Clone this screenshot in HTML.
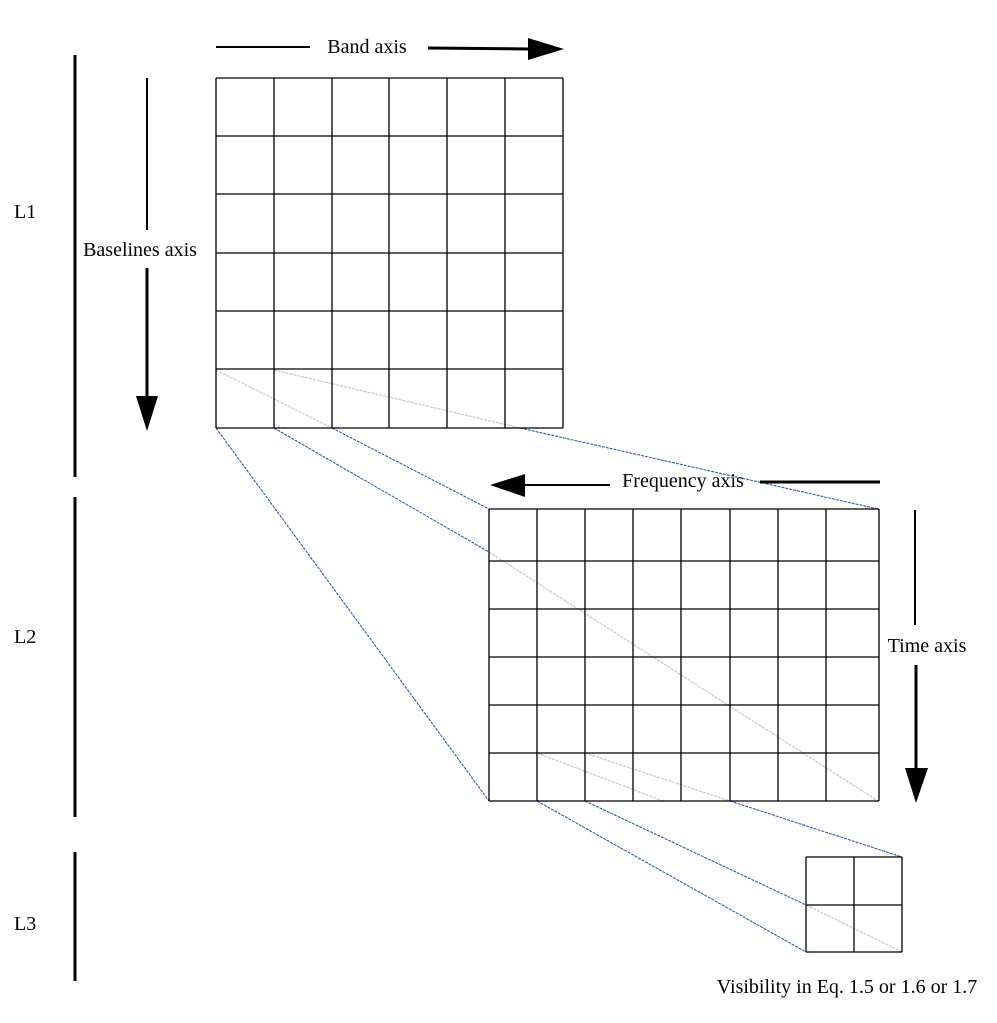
<!DOCTYPE html>
<html><head><meta charset="utf-8"><style>
html,body{margin:0;padding:0;background:#fff}
svg{display:block}
text{font-family:"Liberation Serif",serif;font-size:20px;fill:#000}
</style></head><body>
<svg width="997" height="1023" viewBox="0 0 997 1023">
<g id="links"></g>
<g id="grids"></g>
<g>
<line x1="216" y1="47" x2="310" y2="47" stroke="#000" stroke-width="2"/>
<line x1="428" y1="48" x2="530" y2="49" stroke="#000" stroke-width="3"/>
<polygon points="528,38 564,49 528,60"/>
<text x="367" y="53" text-anchor="middle">Band axis</text>
</g>
<g>
<line x1="147" y1="78" x2="147" y2="230" stroke="#000" stroke-width="2"/>
<line x1="147" y1="268" x2="147" y2="398" stroke="#000" stroke-width="3"/>
<polygon points="136,396 147,431 158,396"/>
<text x="140" y="256" text-anchor="middle">Baselines axis</text>
</g>
<g>
<line x1="760" y1="482" x2="880" y2="482" stroke="#000" stroke-width="3"/>
<line x1="522" y1="485" x2="610" y2="485" stroke="#000" stroke-width="2"/>
<polygon points="490,485 525,474 525,497"/>
<text x="683" y="487" text-anchor="middle">Frequency axis</text>
</g>
<g>
<line x1="915" y1="510" x2="915" y2="625" stroke="#000" stroke-width="2"/>
<line x1="916" y1="665" x2="916" y2="770" stroke="#000" stroke-width="3"/>
<polygon points="905,768 916,803 928,768"/>
<text x="927" y="652" text-anchor="middle">Time axis</text>
</g>
<g>
<line x1="75" y1="55" x2="75" y2="477" stroke="#000" stroke-width="3"/>
<line x1="75" y1="497" x2="75" y2="817" stroke="#000" stroke-width="3"/>
<line x1="75" y1="852" x2="75" y2="981" stroke="#000" stroke-width="3"/>
<text x="14" y="218">L1</text>
<text x="14" y="643">L2</text>
<text x="14" y="930">L3</text>
</g>
<text x="847" y="993" text-anchor="middle">Visibility in Eq. 1.5 or 1.6 or 1.7</text>
</svg>
<script>
const grid1Cols=[216,274,332,389,447,505,563];
const grid1Rows=[78,136,194,253,311,369,428];
const grid2Cols=[489,537,585,633,681,730,778,826,879];
const grid2Rows=[509,561,609,657,705,753,801];
const grid3Cols=[806,854,902];
const grid3Rows=[857,905,952];
const blueLinks=[[216,428,489,801],[274,428,489,552],[332,428,489,509],[520,428,878,509],[537,801,806,952],[585,801,806,905],[730,801,902,857]];
const grayLinks=[[216,370,332,428],[274,370,520,428],[489,552,878,801],[537,753,663,801],[585,753,730,801],[806,905,902,952]];
const NS='http://www.w3.org/2000/svg';
const G=document.getElementById('grids'),L=document.getElementById('links');
function ln(p,x1,y1,x2,y2,c,w,d){const e=document.createElementNS(NS,'line');e.setAttribute('x1',x1);e.setAttribute('y1',y1);e.setAttribute('x2',x2);e.setAttribute('y2',y2);e.setAttribute('stroke',c);e.setAttribute('stroke-width',w);if(d)e.setAttribute('stroke-dasharray',d);p.appendChild(e);return e;}
function grid(cols,rows,name){const g=document.createElementNS(NS,'g');


cols.forEach(x=>ln(g,x,rows[0],x,rows[rows.length-1],'#000',1.3));
rows.forEach(y=>ln(g,cols[0],y,cols[cols.length-1],y,'#000',1.3));
G.appendChild(g);}
grayLinks.forEach(a=>{const e=ln(L,a[0],a[1],a[2],a[3],'#c8c8c8',1.2,'3 1');

});
blueLinks.forEach(a=>{const e=ln(L,a[0],a[1],a[2],a[3],'#2f5fa8',1.1,'3 1');

});
grid(grid1Cols,grid1Rows,'grid-l1');
grid(grid2Cols,grid2Rows,'grid-l2');
grid(grid3Cols,grid3Rows,'grid-l3');
</script>
</body></html>
